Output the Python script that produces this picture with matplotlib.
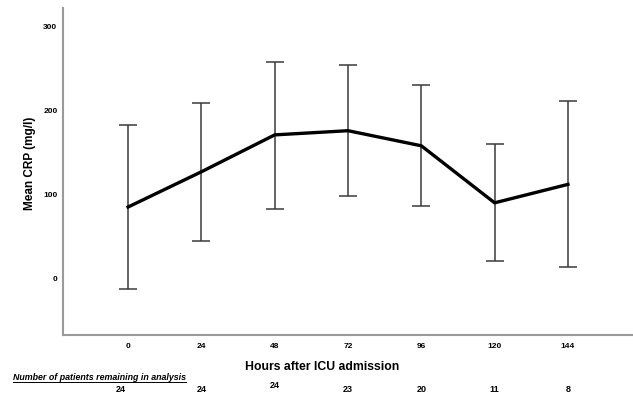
import matplotlib
matplotlib.use("Agg")
from matplotlib import pyplot as plt
from matplotlib.lines import Line2D

# Data
hours = [0, 24, 48, 72, 96, 120, 144]
mean_crp = [85, 127, 171, 176, 158, 90, 112]
ci_low = [-13, 44, 83, 98, 86, 21, 13]
ci_high = [183, 209, 258, 254, 230, 160, 211]
n_patients = [24, 24, 24, 23, 20, 11, 8]
y_ticks = [0, 100, 200, 300]

plt.rcParams["font.family"] = ["Liberation Sans", "DejaVu Sans"]

fig = plt.figure(figsize=(6.33, 3.94), dpi=100)
ax = fig.add_axes([63 / 633, 1 - 335 / 394, 1 - 63 / 633, (335 - 8) / 394])

# Error bars (confidence intervals)
yerr = [
    [m - lo for m, lo in zip(mean_crp, ci_low)],
    [hi - m for m, hi in zip(mean_crp, ci_high)],
]
ax.errorbar(
    hours,
    mean_crp,
    yerr=yerr,
    fmt="none",
    ecolor="#3a3a3a",
    elinewidth=1.1,
    capsize=6.5,
    capthick=1.1,
    zorder=2,
)

# Mean line
ax.plot(hours, mean_crp, color="black", linewidth=2.4, zorder=3)

# Axes styling
ax.set_xlim(-21.3, 165.3)
ax.set_ylim(-67.6, 322.3)
ax.set_xticks(hours)
ax.set_xticklabels([str(h) for h in hours], fontsize=6, fontweight="bold")
ax.set_yticks(y_ticks)
ax.set_yticklabels([str(t) for t in y_ticks], fontsize=6, fontweight="bold")
ax.tick_params(axis="both", length=0)
ax.tick_params(axis="x", pad=6)
ax.tick_params(axis="y", pad=4)
for side in ["top", "right"]:
    ax.spines[side].set_visible(False)
for side in ["left", "bottom"]:
    ax.spines[side].set_color("#9a9a9a")
    ax.spines[side].set_linewidth(1.5)

ax.set_ylabel("Mean CRP (mg/l)", fontsize=8.5, fontweight="bold", labelpad=5)
ax.yaxis.label.set_y(0.526)

# X axis title
fig.text(322 / 633, 1 - 367 / 394, "Hours after ICU admission",
         ha="center", va="center", fontsize=8.8, fontweight="bold")

# Patients-remaining note, underlined
note = fig.text(13 / 633, 1 - 378 / 394, "Number of patients remaining in analysis",
                ha="left", va="center", fontsize=6.4, fontweight="bold",
                fontstyle="italic")
fig.canvas.draw()
bb = note.get_window_extent().transformed(fig.transFigure.inverted())
fig.add_artist(Line2D([bb.x0, bb.x1], [bb.y0 + 0.002, bb.y0 + 0.002],
                      transform=fig.transFigure, color="black", linewidth=0.7))

# Patient counts under each time point
trans = ax.get_xaxis_transform()
for i, (h, n) in enumerate(zip(hours, n_patients)):
    y_px = 389 if i != 2 else 385
    ax.text(h - (2.4 if i == 0 else 0), 1 - (y_px - 8) / 327, str(n), transform=trans,
            ha="center", va="center", fontsize=6.5, fontweight="bold",
            clip_on=False)

fig.savefig("out.png", dpi=100)
